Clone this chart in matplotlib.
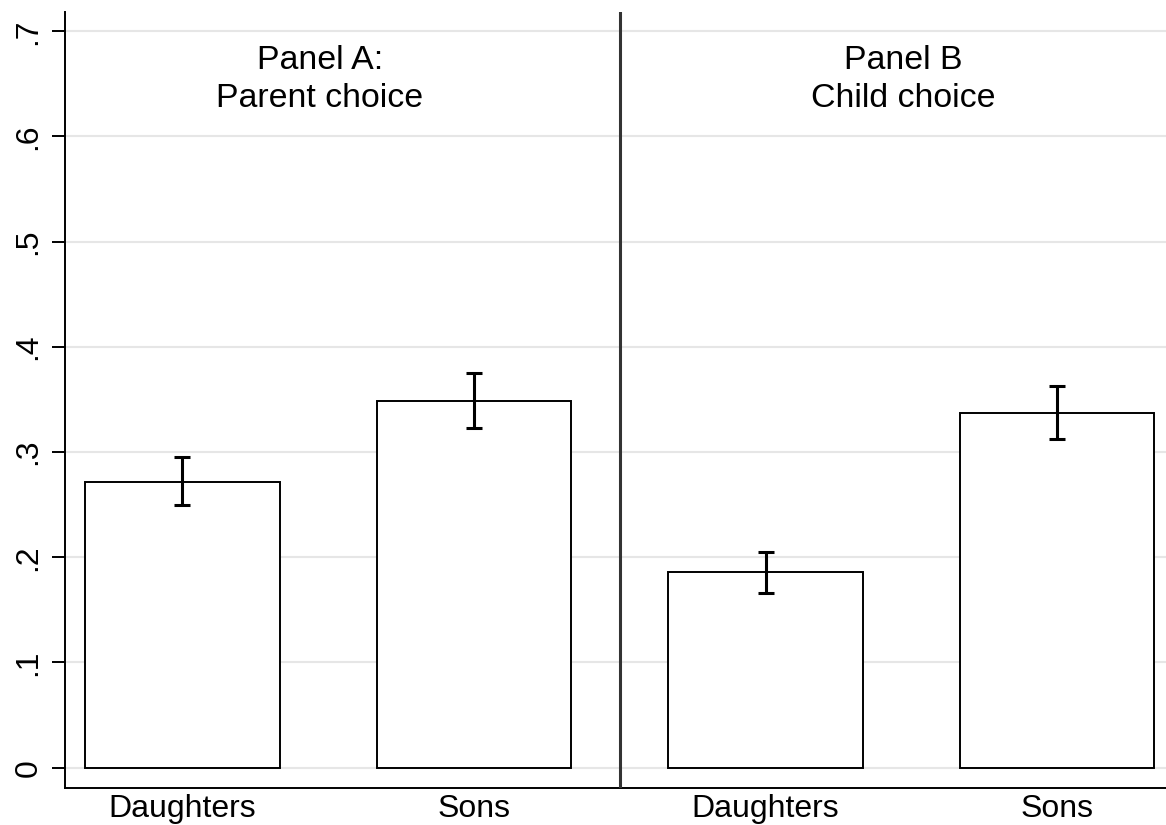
import matplotlib
matplotlib.use("Agg")
import matplotlib.pyplot as plt
import numpy as np

plt.rcParams['font.family'] = ['Liberation Sans', 'DejaVu Sans']

panel_titles = ["Panel A:\nParent choice", "Panel B\nChild choice"]
categories = ["Daughters", "Sons", "Daughters", "Sons"]
means = [0.272, 0.349, 0.186, 0.337]
ci_low = [0.250, 0.323, 0.166, 0.312]
ci_high = [0.295, 0.375, 0.205, 0.363]
yticks = [0, 0.1, 0.2, 0.3, 0.4, 0.5, 0.6, 0.7]
ytick_labels = ["0", ".1", ".2", ".3", ".4", ".5", ".6", ".7"]

fig = plt.figure(figsize=(11.66, 8.25), dpi=100)
W, H = 1166, 825
left, right, top, bottom = 65, 1166, 11.7, 788.3
ax = fig.add_axes([left / W, 1 - bottom / H, (right - left) / W, (bottom - top) / H])

x = np.arange(len(categories))
means_a = np.array(means)
err = np.array([means_a - np.array(ci_low), np.array(ci_high) - means_a])

ax.bar(x, means, width=0.667, color="white", edgecolor="black", linewidth=1.4, zorder=3)
ax.errorbar(x, means, yerr=err, fmt="none", ecolor="black", elinewidth=2.2,
            capsize=6, capthick=2.2, zorder=4)

ax.set_ylim(-0.0196, 0.7186)
ax.set_xlim(-0.402, 3.373)
ax.set_yticks(yticks)
ax.set_yticklabels(ytick_labels, rotation=90, va="center", fontsize=23)
ax.set_xticks(x)
ax.set_xticklabels(categories, fontsize=23)
ax.tick_params(axis="y", length=9.4, width=1.4, pad=6, direction="out")
ax.tick_params(axis="x", length=0, pad=4)
ax.yaxis.grid(True, color="#e6e6e6", linewidth=1.5, zorder=0)
ax.set_axisbelow(True)
for s in ["top", "right"]:
    ax.spines[s].set_visible(False)
for s in ["left", "bottom"]:
    ax.spines[s].set_linewidth(1.4)
    ax.spines[s].set_color("black")

ax.axvline(1.5, color="#333333", linewidth=2.2, zorder=5)

for i, t in enumerate(panel_titles):
    ax.text(0.4725 + 2 * i, 0.687, t, ha="center", va="top", fontsize=24.4,
            linespacing=1.28, zorder=6)

fig.savefig("out.png", dpi=100)
